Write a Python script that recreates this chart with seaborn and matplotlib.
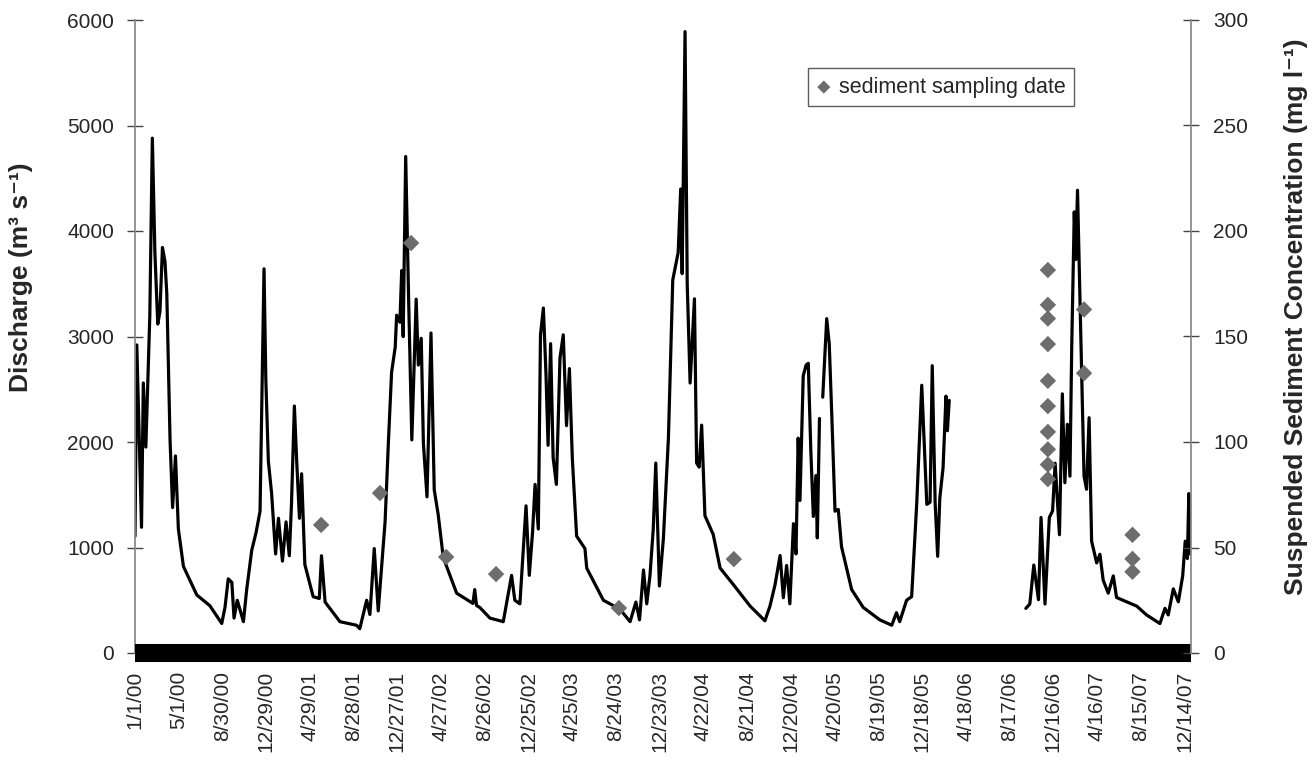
import numpy as np
import pandas as pd
import matplotlib
matplotlib.use("Agg")
import matplotlib.pyplot as plt
import seaborn as sns

# daily discharge as (days since 1/1/2000, m3/s); NaN = gap in record
q_day = [0, 5, 18, 23, 30, 41, 48, 55, 63, 69, 76, 83, 88, 97, 104, 112, 120, 134, 171, 207,
         240, 249, 258, 268, 274, 283, 300, 309, 323, 335, 346, 357, 362, 369, 378, 389, 397, 408,
         418, 427, 433, 441, 447, 455, 461, 470, 493, 510, 516, 526, 567, 613, 622, 641, 650, 662,
         673, 683, 692, 701, 710, 720, 724, 733, 738, 742, 749, 757, 766, 778, 784, 792, 798, 808,
         819, 828, 839, 853, 890, 935, 940, 945, 954, 982, 1019, 1042, 1051, 1065, 1082, 1091,
         1100, 1107, 1116, 1122, 1130, 1137, 1143, 1150, 1157, 1166, 1176, 1185, 1194, 1202, 1210,
         1222, 1245, 1250, 1296, 1342, 1370, 1386, 1396, 1407, 1416, 1425, 1434, 1441, 1451, 1462,
         1476, 1488, 1503, 1510, 1514, 1522, 1528, 1536, 1548, 1554, 1561, 1568, 1577, 1600, 1619,
         1656, 1702, 1743, 1757, 1771, 1785, 1794, 1803, 1812, 1822, 1829, 1835, 1840, 1849, 1857,
         1863, 1870, 1877, 1884, 1888, 1894, 1898,
         1903, 1914, 1921, 1928, 1937, 1946, 1955, 1983, 2015, 2061, 2094, 2107, 2116, 2135, 2149,
         2163, 2177, 2191, 2200, 2206, 2214, 2221, 2227, 2236, 2244, 2248, 2253, 2300,
         2465, 2476, 2487, 2500, 2507, 2518, 2530, 2539, 2546, 2558, 2566, 2573, 2580, 2587, 2592,
         2599, 2603, 2608, 2615, 2626, 2633, 2640, 2647, 2661, 2670, 2679, 2693, 2707, 2716, 2772,
         2799, 2836, 2850, 2859, 2873, 2887, 2899, 2906, 2912, 2916, 2921]
q_val = [1108, 2920, 1192, 2560, 1952, 3200, 4880, 3800, 3118, 3236, 3844, 3709, 3405, 2020, 1378,
         1868, 1175, 821, 550, 449,
         280, 432, 703, 669, 331, 500, 297, 601, 973, 1142, 1344, 3641, 2594, 1817, 1513, 939, 1277,
         871, 1243, 922, 1412, 2341, 1851, 1277, 1699, 838, 534, 517, 922, 483, 297, 263, 230, 500,
         365, 990,
         399, 838, 1243, 1986, 2662, 2898, 3202, 3135, 3625, 2999, 4706, 3371, 2020, 3354, 2729,
         2983, 1986, 1480,
         3033, 1547, 1311, 905, 567, 470, 601, 450, 432, 331, 297, 736, 500, 466, 1395, 736,
         1142, 1598, 1175, 3016, 3270, 2662, 1969, 2932, 1851, 1598, 2797, 3016, 2155, 2696, 1851,
         1108, 990, 804, 500, 415, 297, 483, 314, 787, 466, 736, 1175, 1800, 635, 1082,
         2039, 3536, 3796, 4398, 3596, 5890, 3499, 2559, 3357, 1801, 1762, 2160, 1302, 1123, 805,
         647, 445, 305, 445, 647, 924, 524, 830, 466, 1226, 939, 2037, 1446, 2628, 2729,
         2746, 1919, 1294, 1682, 1091, 2223, np.nan,
         2425, 3169, 2932, 2257, 1344, 1361, 1007, 601, 432, 314, 263, 382, 297, 500, 534,
         1412, 2538, 1409, 1429, 2723, 1429, 916, 1470, 1758, 2435, 2107, 2394, np.nan,
         423, 464, 834, 505, 1285, 464, 1285, 1347, 1799, 1121, 2456, 1614, 2168, 1676, 2908,
         4181, 3729, 4386, 3318, 1676, 1552, 2230, 1060, 854, 936, 690, 567, 731, 526, 444,
         361, 279, 423, 361, 608, 485, 731, 1060, 895, 1511, 936]

# suspended sediment samples (days since 1/1/2000, mg/l)
ssc_day = [515, 678, 764, 861, 999, 1339, 1657,
           2526, 2526, 2526, 2526, 2526, 2526, 2526, 2526, 2526, 2526,
           2626, 2626, 2760, 2760, 2760]
ssc_val = [60.7, 75.8, 194.3, 45.5, 37.4, 21.3, 44.5,
           181.5, 165.0, 158.5, 146.4, 129.0, 117.0, 104.8, 96.5, 89.3, 82.4,
           162.8, 132.6, 56.0, 44.6, 38.5]

start = pd.Timestamp("2000-01-01")
tick_dates = pd.date_range(start, periods=25, freq="121D")
tick_labels = [f"{d.month}/{d.day}/{d.strftime('%y')}" for d in tick_dates]

q = pd.DataFrame({"date": start + pd.to_timedelta(q_day, unit="D"), "Q": q_val})
q["seg"] = q["Q"].isna().cumsum()
q = q.dropna()
ssc = pd.DataFrame({"date": start + pd.to_timedelta(ssc_day, unit="D"), "SSC": ssc_val})

sns.set_theme(style="white")
plt.rcParams["font.family"] = ["Liberation Sans", "DejaVu Sans"]

fig = plt.figure(figsize=(13.15, 7.83), dpi=100)
ax = fig.add_axes([135 / 1315, 1 - 653 / 783, 1056 / 1315, 633 / 783])
ax2 = ax.twinx()

sns.lineplot(data=q, x="date", y="Q", units="seg", estimator=None, color="black",
             linewidth=2.3, ax=ax, legend=False)
sns.scatterplot(data=ssc, x="date", y="SSC", marker="D", s=70, color="#6d6d6d",
                edgecolor="none", ax=ax2, label="sediment sampling date", zorder=5)

ax.set_xlim(start, pd.Timestamp("2008-01-01"))
ax.set_ylim(0, 6000)
ax2.set_ylim(0, 300)
ax.set_yticks(range(0, 6001, 1000))
ax2.set_yticks(range(0, 301, 50))
ax.set_xticks(tick_dates)
ax.set_xticklabels(tick_labels, rotation=90, ha="center", va="top", fontsize=15)

# thick black band along the date axis
ax.axhline(0, color="black", linewidth=13, solid_capstyle="butt", clip_on=False, zorder=4)

for a in (ax, ax2):
    for s in a.spines.values():
        s.set_visible(False)
ax.spines["left"].set_visible(True)
ax.spines["left"].set_color("#888888")
ax2.spines["right"].set_visible(True)
ax2.spines["right"].set_color("#888888")

ax.tick_params(axis="y", direction="inout", length=12, width=1, color="#444444",
               labelsize=15, pad=9, left=True)
ax2.tick_params(axis="y", direction="inout", length=12, width=1, color="#444444",
                labelsize=15, pad=10, right=True)
ax.tick_params(axis="x", length=0, pad=13)

ax.set_xlabel("")
ax.set_ylabel("Discharge (m³ s⁻¹)", fontsize=19, fontweight="bold")
ax2.set_ylabel("Suspended Sediment Concentration (mg l⁻¹)", fontsize=19, fontweight="bold")
ax.yaxis.set_label_coords(-0.097, 0.594)
ax2.yaxis.set_label_coords(1.088, 0.532)

leg = ax2.legend(loc="upper left", bbox_to_anchor=(0.637, 0.924), frameon=True,
                 fancybox=False, fontsize=15.5, handlelength=0.7, handletextpad=0.35,
                 borderpad=0.4, borderaxespad=0, markerscale=0.8)
leg.get_frame().set_edgecolor("#333333")
leg.get_frame().set_linewidth(1)

fig.savefig("out.png", dpi=100)
